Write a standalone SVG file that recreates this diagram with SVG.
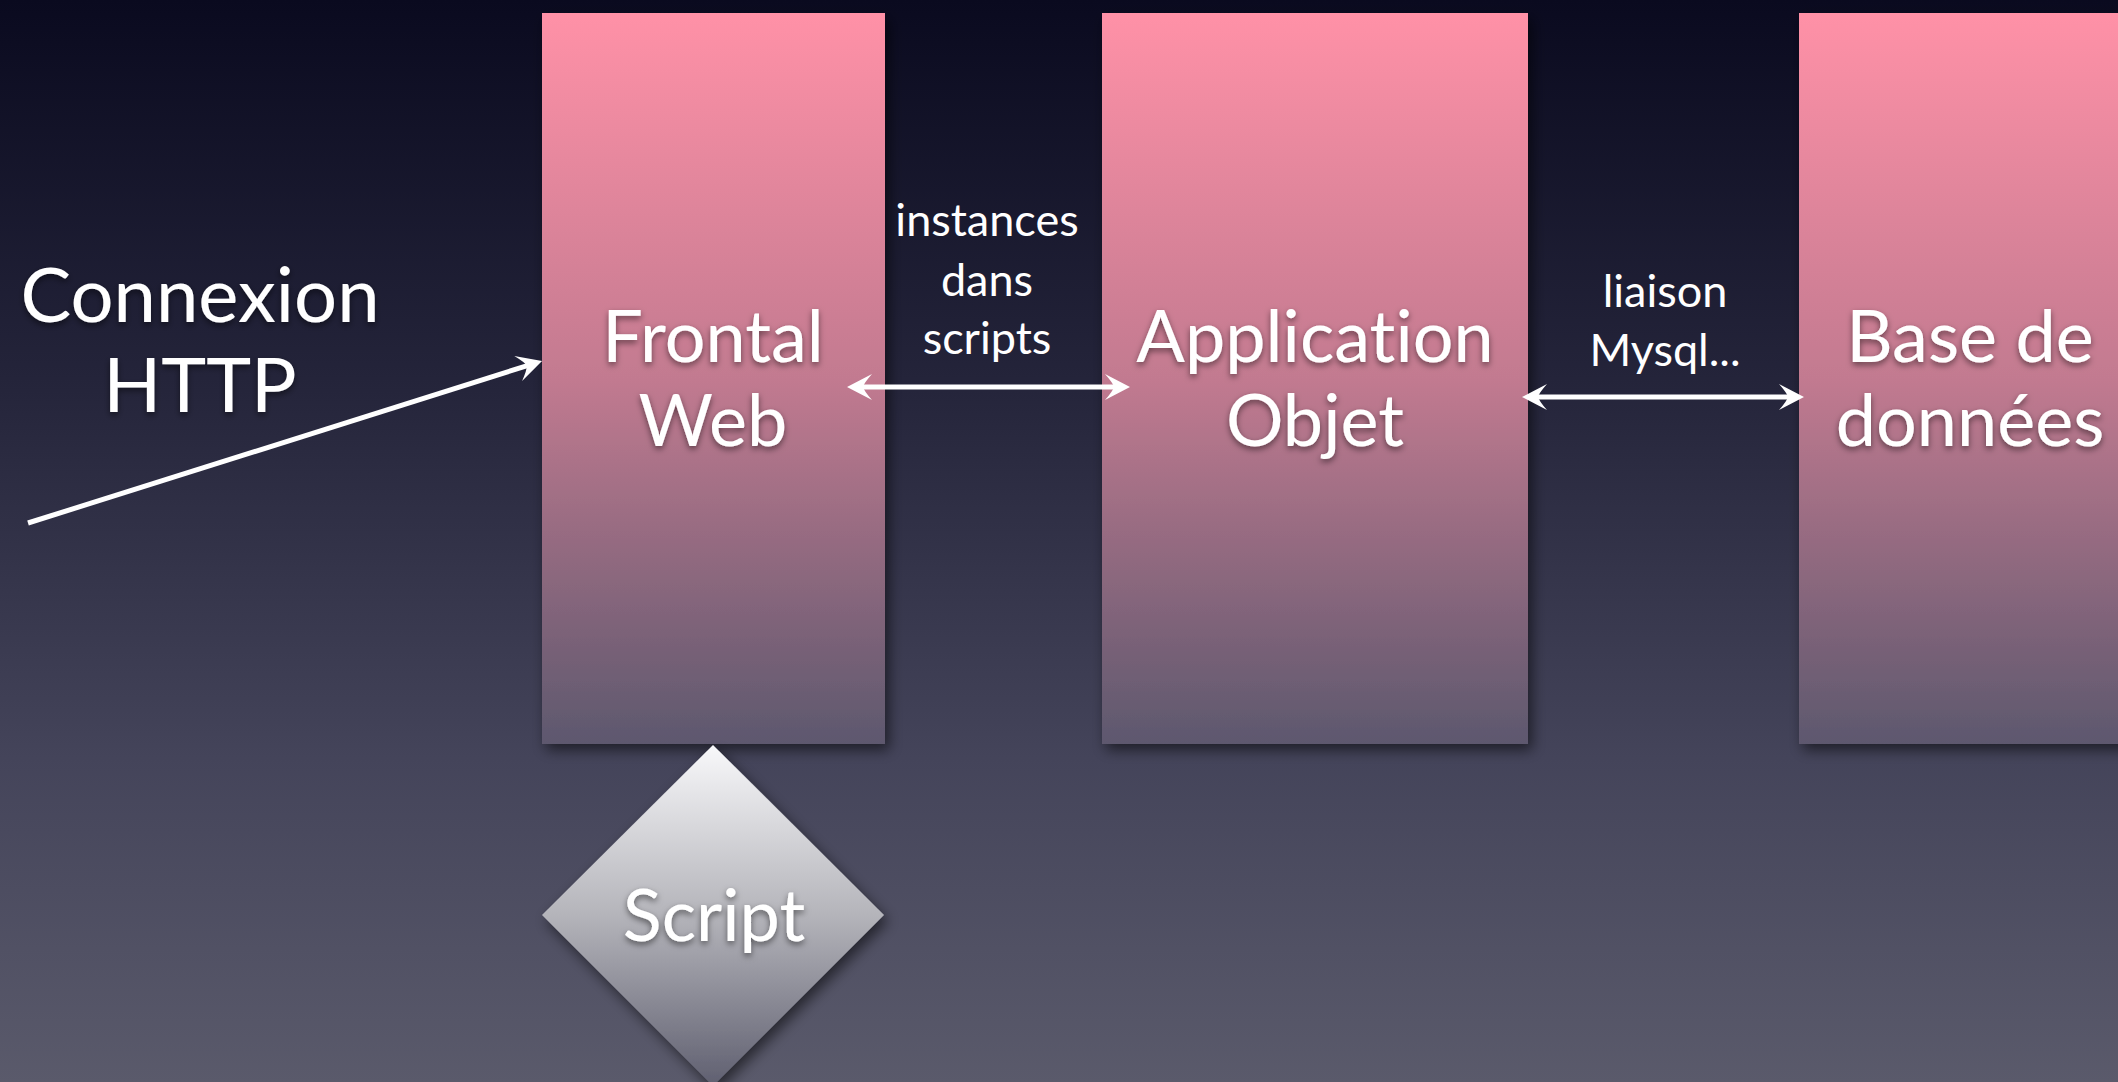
<svg xmlns="http://www.w3.org/2000/svg" width="2118" height="1082" viewBox="0 0 2118 1082">
<defs>
<linearGradient id="bg" x1="0" y1="0" x2="0" y2="1">
<stop offset="0" stop-color="#0a0a1f"/>
<stop offset="0.35" stop-color="#24243a"/>
<stop offset="0.7" stop-color="#44445a"/>
<stop offset="1" stop-color="#5a5a6b"/>
</linearGradient>
<linearGradient id="box" x1="0" y1="0" x2="0" y2="1">
<stop offset="0" stop-color="#ff91a7"/>
<stop offset="0.5" stop-color="#c27a90"/>
<stop offset="1" stop-color="#5d586e"/>
</linearGradient>
<linearGradient id="dia" x1="0" y1="0" x2="0" y2="1">
<stop offset="0" stop-color="#f8f8fa"/>
<stop offset="0.5" stop-color="#b4b4ba"/>
<stop offset="1" stop-color="#5f5f70"/>
</linearGradient>
<filter id="shadow" x="-20%" y="-20%" width="140%" height="140%">
<feDropShadow dx="4" dy="6" stdDeviation="7" flood-color="#000" flood-opacity="0.55"/>
</filter>
<filter id="tshadow" x="-10%" y="-20%" width="120%" height="140%">
<feDropShadow dx="0" dy="3" stdDeviation="3" flood-color="#000" flood-opacity="0.5"/>
</filter>
<marker id="ah" viewBox="-27 -14 28 28" refX="-12" refY="0" markerWidth="28" markerHeight="28" markerUnits="userSpaceOnUse" orient="auto-start-reverse">
<path d="M-25,-13 L0,0 L-25,13 Q-17,4 -16,0 Q-17,-4 -25,-13 Z" fill="#fff"/>
</marker>
</defs>
<style>
text{font-family:Lato,"Open Sans","Liberation Sans",sans-serif;fill:#fff;text-anchor:middle;font-variant-ligatures:none}
.big{font-size:72px;filter:url(#tshadow)}
.small{font-size:45px}
.conn{stroke:#fff;stroke-width:5;fill:none}
</style>
<rect width="2118" height="1082" fill="url(#bg)"/>
<g id="frontal">
<rect x="542" y="13" width="343" height="731" fill="url(#box)" filter="url(#shadow)"/>
<text class="big" x="713" y="362">Frontal</text>
<text class="big" x="713" y="446">Web</text>
</g>
<g id="application">
<rect x="1102" y="13" width="426" height="731" fill="url(#box)" filter="url(#shadow)"/>
<text class="big" x="1315" y="362">Application</text>
<text class="big" x="1315" y="446">Objet</text>
</g>
<g id="base">
<rect x="1799" y="13" width="330" height="731" fill="url(#box)" filter="url(#shadow)"/>
<text class="big" x="1970" y="362">Base de</text>
<text class="big" x="1970" y="446">données</text>
</g>
<g id="script">
<polygon points="713,745 884,915 713,1086 542,915" fill="url(#dia)" filter="url(#shadow)"/>
<text class="big" x="714" y="941">Script</text>
</g>
<g id="labels">
<text class="big" x="200" y="322" style="font-size:76px">Connexion</text>
<text class="big" x="200" y="412" style="font-size:76px">HTTP</text>
<text class="small" x="987" y="236">instances</text>
<text class="small" x="987" y="296">dans</text>
<text class="small" x="987" y="354">scripts</text>
<text class="small" x="1665" y="307">liaison</text>
<text class="small" x="1665" y="366">Mysql...</text>
</g>
<g id="connectors">
<line class="conn" x1="28" y1="523" x2="530.6" y2="364.6" marker-end="url(#ah)"/>
<line class="conn" x1="859" y1="387" x2="1118" y2="387" marker-start="url(#ah)" marker-end="url(#ah)"/>
<line class="conn" x1="1534" y1="397" x2="1792" y2="397" marker-start="url(#ah)" marker-end="url(#ah)"/>
</g>
</svg>
